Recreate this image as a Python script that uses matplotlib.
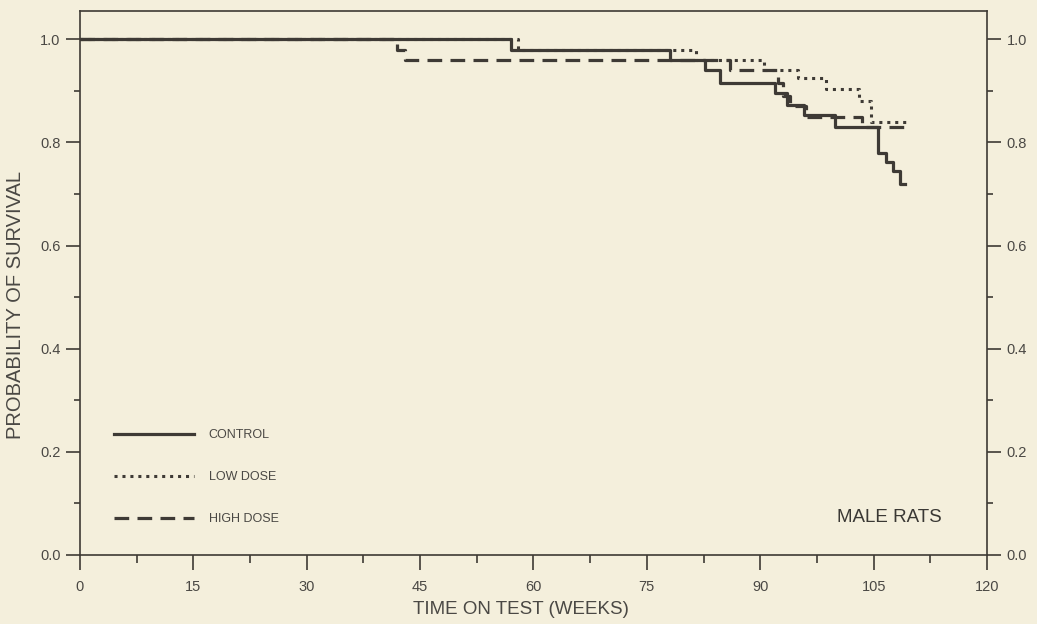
import numpy as np
import matplotlib
import matplotlib.pyplot as plt
from matplotlib.ticker import MultipleLocator

matplotlib.use('agg')

# step survival curves (weeks, probability)
control_weeks = [0, 57, 78, 82.7, 84.7, 92, 93.5, 95.8, 99.9, 105.6, 106.6, 107.6, 108.5, 109.2]
control_surv = [1.0, 0.98, 0.96, 0.94, 0.915, 0.895, 0.872, 0.853, 0.83, 0.78, 0.762, 0.745, 0.72, 0.72]

low_weeks = [0, 58, 81.5, 90.5, 95, 98.7, 103, 104.7, 109.5]
low_surv = [1.0, 0.98, 0.96, 0.94, 0.926, 0.903, 0.88, 0.84, 0.84]

high_weeks = [0, 42, 43, 86, 92.3, 93, 94, 96, 103.5, 109.5]
high_surv = [1.0, 0.98, 0.96, 0.94, 0.915, 0.89, 0.87, 0.85, 0.83, 0.83]

x_ticks = [0, 15, 30, 45, 60, 75, 90, 105, 120]
y_ticks = [0.0, 0.2, 0.4, 0.6, 0.8, 1.0]

bg = '#f4efdc'
ink = '#3e3a35'
txt = '#4a4844'

plt.rcParams['font.family'] = ['Liberation Sans', 'DejaVu Sans']

fig = plt.figure(figsize=(10.37, 6.24), dpi=100, facecolor=bg)
ax = fig.add_axes([0.0771, 0.1106, 0.8747, 0.8718], facecolor=bg)

ax.step(control_weeks, control_surv, where='post', color=ink, lw=2.3, label='CONTROL')
ax.step(low_weeks, low_surv, where='post', color=ink, lw=2.2,
        dashes=(1.0, 1.6), label='LOW DOSE')
ax.step(high_weeks, high_surv, where='post', color=ink, lw=2.3,
        dashes=(4.6, 2.6), label='HIGH DOSE')

ax.set_xlim(0, 120)
ax.set_ylim(0, 1.055)
ax.set_xticks(x_ticks)
ax.set_yticks(y_ticks)
ax.set_yticklabels([f'{v:.1f}' for v in y_ticks])
ax.xaxis.set_minor_locator(MultipleLocator(7.5))
ax.yaxis.set_minor_locator(MultipleLocator(0.1))

for s in ax.spines.values():
    s.set_color(ink)
    s.set_linewidth(1.2)

ax.tick_params(axis='x', which='major', direction='out', length=11, width=1.2,
               colors=ink, labelcolor=txt, labelsize=10.5, pad=7)
ax.tick_params(axis='x', which='minor', direction='out', length=6, width=1.2, colors=ink)
ax.tick_params(axis='y', which='major', direction='out', length=10, width=1.2,
               colors=ink, labelcolor=txt, labelsize=10.5, pad=4,
               right=True, labelright=True)
ax.tick_params(axis='y', which='minor', direction='out', length=4, width=1.2,
               colors=ink, right=True)

ax.set_xlabel('TIME ON TEST (WEEKS)', fontsize=13.5, color=txt)
ax.xaxis.set_label_coords(0.486, -0.085)
ax.set_ylabel('PROBABILITY OF SURVIVAL', fontsize=14.5, color=txt)
ax.yaxis.set_label_coords(-0.061, 0.46)

ax.text(0.95, 0.068, 'MALE RATS', transform=ax.transAxes, ha='right', va='center',
        fontsize=13.5, color='#3a3834')

leg = ax.legend(loc='lower left', bbox_to_anchor=(0.037, 0.055), frameon=False,
                fontsize=9, handlelength=6.4, handletextpad=1.2,
                labelspacing=2.4, borderpad=0, borderaxespad=0)
for t in leg.get_texts():
    t.set_color(txt)

fig.savefig('out.png', dpi=100, facecolor=bg)
